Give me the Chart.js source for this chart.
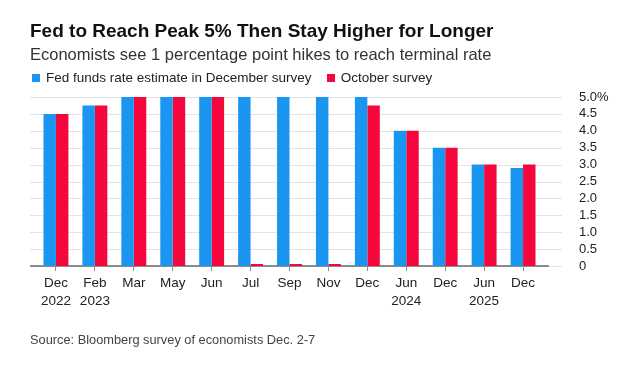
<!DOCTYPE html>
<html>
<head>
<meta charset="utf-8">
<script src="https://cdn.jsdelivr.net/npm/chart.js@4.4.1/dist/chart.umd.min.js"></script>
<style>
  body { margin: 0; background: #fff; }
  #wrap { position: relative; width: 630px; height: 366px; font-family: "Liberation Sans", Arial, sans-serif; }
  #wrap canvas { position: absolute; left: 0; top: 0; }
  .txt { position: absolute; left: 30px; white-space: nowrap; line-height: 1; }
  #title { top: 21px; font-size: 19px; font-weight: bold; color: #111; }
  #subtitle { top: 46px; font-size: 16.5px; color: #333; }
  #legend { top: 71px; font-size: 13.5px; color: #222; left: 32px; }
  #legend span.box { display: inline-block; width: 8px; height: 8px; margin-right: 6px; vertical-align: 0px; }
  #legend span.item { margin-right: 15px; }
  #source { top: 334px; font-size: 12.8px; color: #444; }
</style>
</head>
<body>
<div id="wrap">
  <canvas id="rateChart" width="630" height="366"></canvas>
  <div id="title" class="txt">Fed to Reach Peak 5% Then Stay Higher for Longer</div>
  <div id="subtitle" class="txt">Economists see 1 percentage point hikes to reach terminal rate</div>
  <div id="legend" class="txt"></div>
  <div id="source" class="txt">Source: Bloomberg survey of economists Dec. 2-7</div>
</div>
<script>
// dati
var categories = [["Dec", "2022"], ["Feb", "2023"], "Mar", "May", "Jun", "Jul", "Sep", "Nov", "Dec", ["Jun", "2024"], "Dec", ["Jun", "2025"], "Dec"];
var decemberSurvey = [4.5, 4.75, 5, 5, 5, 5, 5, 5, 5, 4, 3.5, 3, 2.9];
var octoberSurvey = [4.5, 4.75, 5, 5, 5, 0, 0, 0, 4.75, 4, 3.5, 3, 3];
var seriesNames = ["Fed funds rate estimate in December survey", "October survey"];
var seriesColors = ["#1a96f0", "#f5073d"];
var yMin = 0;
var yMax = 5;
var yStep = 0.5;

// griglia orizzontale piu' larga dell'area dati + linea di base
var gridPlugin = {
  id: "gridExtend",
  beforeDatasetsDraw: function(chart) {
    var ctx = chart.ctx;
    var yScale = chart.scales.y;
    var area = chart.chartArea;
    ctx.save();
    ctx.strokeStyle = "#e3e3e3";
    ctx.lineWidth = 1;
    yScale.ticks.forEach(function(t) {
      var y = Math.round(yScale.getPixelForValue(t.value)) + 0.5;
      ctx.beginPath();
      ctx.moveTo(area.left - 6.5, y);
      ctx.lineTo(area.right + 19.5, y);
      ctx.stroke();
    });
    var y0 = Math.round(yScale.getPixelForValue(0));
    ctx.strokeStyle = "#8c8c8c";
    ctx.lineWidth = 2;
    ctx.beginPath();
    ctx.moveTo(area.left - 6.5, y0);
    ctx.lineTo(area.right + 6.5, y0);
    ctx.stroke();
    ctx.restore();
  }
};

// legenda in html
function printLegend() {
  var legend = document.getElementById("legend");
  for (var i = 0; i < seriesNames.length; i++) {
    var item = document.createElement("span");
    item.className = "item";
    item.innerHTML = '<span class="box" style="background:' + seriesColors[i] + '"></span>' + seriesNames[i];
    legend.appendChild(item);
  }
}

function printChart() {
  var ctx = document.getElementById("rateChart").getContext("2d");
  var myBarChart = new Chart(ctx, {
    type: "bar",
    data: {
      labels: categories,
      datasets: [{
        label: seriesNames[0],
        backgroundColor: seriesColors[0],
        data: decemberSurvey
      }, {
        label: seriesNames[1],
        backgroundColor: seriesColors[1],
        minBarLength: 2,
        data: octoberSurvey
      }]
    },
    options: {
      responsive: false,
      animation: false,
      layout: { padding: { left: 36.5, right: 0, top: 97, bottom: 55 } },
      datasets: { bar: { categoryPercentage: 0.64, barPercentage: 1.0 } },
      plugins: {
        legend: { display: false },
        tooltip: { enabled: false }
      },
      scales: {
        x: {
          offset: true,
          grid: { drawOnChartArea: false, drawTicks: true, tickLength: 5, offset: false, color: "#8c8c8c" },
          border: { display: false },
          ticks: {
            color: "#222",
            padding: 3,
            maxRotation: 0,
            autoSkip: false,
            font: { family: "'Liberation Sans', Arial, sans-serif", size: 13.5, lineHeight: 1.33 }
          },
          afterFit: function(scale) { scale.height = 45; }
        },
        y: {
          position: "right",
          min: yMin,
          max: yMax,
          grid: { display: false },
          border: { display: false },
          ticks: {
            stepSize: yStep,
            autoSkip: false,
            padding: 28.5,
            color: "#222",
            font: { family: "'Liberation Sans', Arial, sans-serif", size: 13 },
            callback: function(value) {
              if (value === 0) return "0";
              if (value === yMax) return value.toFixed(1) + "%";
              return value.toFixed(1);
            }
          },
          afterFit: function(scale) { scale.width = 87.5; }
        }
      }
    },
    plugins: [gridPlugin]
  });
}

printLegend();
printChart();
</script>
</body>
</html>
